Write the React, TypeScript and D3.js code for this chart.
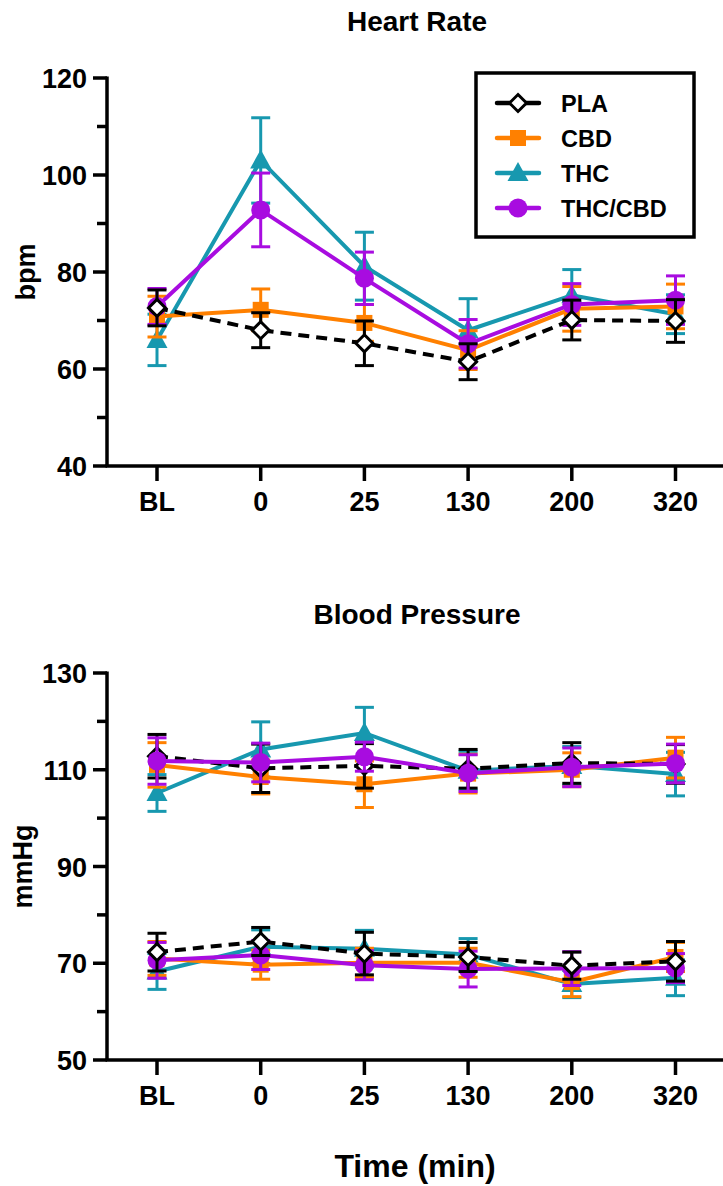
import React from "react";
import * as d3 from "d3";

const categories = ["BL", "0", "25", "130", "200", "320"];
const seriesNames = ["PLA", "CBD", "THC", "THC/CBD"];

// Heart rate (bpm): mean and SEM
const hrPLA = [72.6, 68.0, 65.3, 61.5, 70.1, 69.9];
const hrPLAErr = [3.7, 3.6, 4.6, 3.7, 4.1, 4.4];
const hrCBD = [70.8, 72.2, 69.5, 63.9, 72.4, 72.9];
const hrCBDErr = [4.2, 4.3, 3.8, 4.0, 4.6, 4.6];
const hrTHC = [66.0, 103.0, 81.2, 68.0, 75.2, 71.3];
const hrTHCErr = [5.3, 8.8, 7.0, 6.5, 5.3, 4.0];
const hrMIX = [72.9, 92.8, 78.7, 65.2, 73.3, 74.2];
const hrMIXErr = [3.7, 7.6, 5.4, 5.0, 4.3, 5.0];

// Blood pressure, systolic (mmHg)
const sysPLA = [112.8, 110.3, 110.8, 110.2, 111.4, 111.2];
const sysPLAErr = [4.5, 5.0, 4.6, 4.0, 4.2, 4.0];
const sysCBD = [111.0, 108.5, 107.0, 109.2, 110.0, 112.5];
const sysCBDErr = [4.6, 3.5, 4.8, 4.0, 3.5, 4.2];
const sysTHC = [105.2, 114.2, 117.6, 109.8, 110.8, 109.1];
const sysTHCErr = [3.8, 5.7, 5.3, 4.0, 4.0, 4.5];
const sysMIX = [111.8, 111.5, 112.7, 109.3, 110.5, 111.3];
const sysMIXErr = [4.8, 4.0, 3.0, 3.8, 4.0, 4.0];

// Blood pressure, diastolic (mmHg)
const diaPLA = [72.3, 74.5, 72.0, 71.3, 69.5, 70.4];
const diaPLAErr = [3.9, 2.9, 4.4, 3.0, 2.8, 4.1];
const diaCBD = [71.0, 69.7, 70.1, 70.1, 66.1, 71.3];
const diaCBDErr = [3.5, 3.0, 3.0, 3.0, 3.0, 3.0];
const diaTHC = [68.3, 73.4, 73.0, 71.8, 65.7, 67.0];
const diaTHCErr = [3.7, 3.5, 3.8, 3.3, 2.8, 3.7];
const diaMIX = [70.6, 71.7, 69.6, 68.8, 68.9, 69.0];
const diaMIXErr = [3.7, 3.0, 3.0, 3.7, 3.5, 3.0];

const hrTicks = [40, 60, 80, 100, 120];
const bpTicks = [50, 70, 90, 110, 130];

const COLORS: Record<string, string> = {
  PLA: "#000000",
  CBD: "#FF8000",
  THC: "#1798AF",
  "THC/CBD": "#A80CE0",
};

const FONT = "'Liberation Sans', Arial, Helvetica, sans-serif";

type Series = { name: string; values: number[]; errs: number[] };
type Group = { series: Series[]; order: string[] };

function Marker({ name, x, y }: { name: string; x: number; y: number }) {
  const c = COLORS[name];
  if (name === "PLA") {
    const s = 8.5;
    return (
      <path
        d={`M${x},${y - s}L${x + s},${y}L${x},${y + s}L${x - s},${y}Z`}
        fill="#fff"
        stroke="#000"
        strokeWidth={3}
      />
    );
  }
  if (name === "CBD") {
    return <rect x={x - 8} y={y - 8} width={16} height={16} fill={c} />;
  }
  if (name === "THC") {
    return <path d={`M${x},${y - 11}L${x + 10.5},${y + 8}L${x - 10.5},${y + 8}Z`} fill={c} />;
  }
  return <circle cx={x} cy={y} r={9.5} fill={c} />;
}

function SeriesMarks({
  s,
  x,
  y,
}: {
  s: Series;
  x: d3.ScalePoint<string>;
  y: d3.ScaleLinear<number, number>;
}) {
  const c = COLORS[s.name];
  const line = d3
    .line<number>()
    .x((_, i) => x(categories[i]) as number)
    .y((v) => y(v));
  return (
    <g>
      {s.values.map((v, i) => {
        const cx = x(categories[i]) as number;
        const y1 = y(v + s.errs[i]);
        const y2 = y(v - s.errs[i]);
        return (
          <g key={i} stroke={c} strokeWidth={3}>
            <line x1={cx} x2={cx} y1={y1} y2={y2} />
            <line x1={cx - 9.5} x2={cx + 9.5} y1={y1} y2={y1} />
            <line x1={cx - 9.5} x2={cx + 9.5} y1={y2} y2={y2} />
          </g>
        );
      })}
      <path
        d={line(s.values) || ""}
        fill="none"
        stroke={c}
        strokeWidth={4}
        strokeDasharray={s.name === "PLA" ? "11 7" : undefined}
      />
      {s.values.map((v, i) => (
        <Marker key={i} name={s.name} x={x(categories[i]) as number} y={y(v)} />
      ))}
    </g>
  );
}

function Panel({
  title,
  titleY,
  yLabel,
  yLabelX,
  top,
  bottom,
  domain,
  ticks,
  groups,
}: {
  title: string;
  titleY: number;
  yLabel: string;
  yLabelX: number;
  top: number;
  bottom: number;
  domain: [number, number];
  ticks: number[];
  groups: Group[];
}) {
  const axisX = 107;
  const x = d3.scalePoint<string>().domain(categories).range([157, 675.5]);
  const y = d3.scaleLinear().domain(domain).range([bottom, top]);
  const minor = d3.range(domain[0] + 10, domain[1], 20);
  return (
    <g>
      <text x={417} y={titleY} textAnchor="middle" fontFamily={FONT} fontWeight="bold" fontSize={28}>
        {title}
      </text>
      <text
        transform={`translate(${yLabelX},${(top + bottom) / 2}) rotate(-90)`}
        textAnchor="middle"
        fontFamily={FONT}
        fontWeight="bold"
        fontSize={27}
      >
        {yLabel}
      </text>
      <g stroke="#000" strokeWidth={3.5}>
        <line x1={axisX} x2={axisX} y1={top - 1.5} y2={bottom} />
        <line x1={axisX - 1.5} x2={723} y1={bottom} y2={bottom} />
        {ticks.map((t) => (
          <line key={"t" + t} x1={axisX - 14} x2={axisX} y1={y(t)} y2={y(t)} />
        ))}
        {minor.map((t) => (
          <line key={"m" + t} x1={axisX - 10} x2={axisX} y1={y(t)} y2={y(t)} />
        ))}
        {categories.map((c) => (
          <line key={"x" + c} x1={x(c)} x2={x(c)} y1={bottom} y2={bottom + 15} />
        ))}
      </g>
      {ticks.map((t) => (
        <text
          key={"l" + t}
          x={87}
          y={y(t) + 10}
          textAnchor="end"
          fontFamily={FONT}
          fontWeight="bold"
          fontSize={27}
        >
          {t}
        </text>
      ))}
      {categories.map((c) => (
        <text
          key={"xl" + c}
          x={x(c)}
          y={bottom + 45}
          textAnchor="middle"
          fontFamily={FONT}
          fontWeight="bold"
          fontSize={27}
        >
          {c}
        </text>
      ))}
      {groups.map((g, gi) => (
        <g key={gi}>
          {g.order.map((n) => {
            const s = g.series.find((d) => d.name === n)!;
            return <SeriesMarks key={n} s={s} x={x} y={y} />;
          })}
        </g>
      ))}
    </g>
  );
}

function Legend() {
  const x0 = 476;
  const y0 = 73;
  return (
    <g>
      <rect x={x0} y={y0} width={218} height={164} fill="#fff" stroke="#000" strokeWidth={3.5} />
      {seriesNames.map((n, i) => {
        const yy = 103 + i * 35;
        return (
          <g key={n}>
            <line x1={497} x2={539} y1={yy} y2={yy} stroke={COLORS[n]} strokeWidth={4.5} strokeLinecap="round" />
            <Marker name={n} x={518} y={yy} />
            <text x={561} y={yy + 8.5} fontFamily={FONT} fontWeight="bold" fontSize={23.5}>
              {n}
            </text>
          </g>
        );
      })}
    </g>
  );
}

export default function App() {
  const hr: Series[] = [
    { name: "PLA", values: hrPLA, errs: hrPLAErr },
    { name: "CBD", values: hrCBD, errs: hrCBDErr },
    { name: "THC", values: hrTHC, errs: hrTHCErr },
    { name: "THC/CBD", values: hrMIX, errs: hrMIXErr },
  ];
  const sys: Series[] = [
    { name: "PLA", values: sysPLA, errs: sysPLAErr },
    { name: "CBD", values: sysCBD, errs: sysCBDErr },
    { name: "THC", values: sysTHC, errs: sysTHCErr },
    { name: "THC/CBD", values: sysMIX, errs: sysMIXErr },
  ];
  const dia: Series[] = [
    { name: "PLA", values: diaPLA, errs: diaPLAErr },
    { name: "CBD", values: diaCBD, errs: diaCBDErr },
    { name: "THC", values: diaTHC, errs: diaTHCErr },
    { name: "THC/CBD", values: diaMIX, errs: diaMIXErr },
  ];
  const baseOrder = ["THC", "CBD", "THC/CBD", "PLA"];
  const sysOrder = ["THC", "CBD", "PLA", "THC/CBD"];
  return (
    <svg
      width={723}
      height={1186}
      style={{ position: "absolute", left: 0, top: 0, background: "#fff" }}
    >
      <rect width={723} height={1186} fill="#fff" />
      <Panel
        title="Heart Rate"
        titleY={31}
        yLabel="bpm"
        yLabelX={35}
        top={78}
        bottom={466}
        domain={[40, 120]}
        ticks={hrTicks}
        groups={[{ series: hr, order: baseOrder }]}
      />
      <Panel
        title="Blood Pressure"
        titleY={624}
        yLabel="mmHg"
        yLabelX={32}
        top={673}
        bottom={1060}
        domain={[50, 130]}
        ticks={bpTicks}
        groups={[
          { series: sys, order: sysOrder },
          { series: dia, order: baseOrder },
        ]}
      />
      <Legend />
      <text x={415} y={1177} textAnchor="middle" fontFamily={FONT} fontWeight="bold" fontSize={32}>
        Time (min)
      </text>
    </svg>
  );
}
